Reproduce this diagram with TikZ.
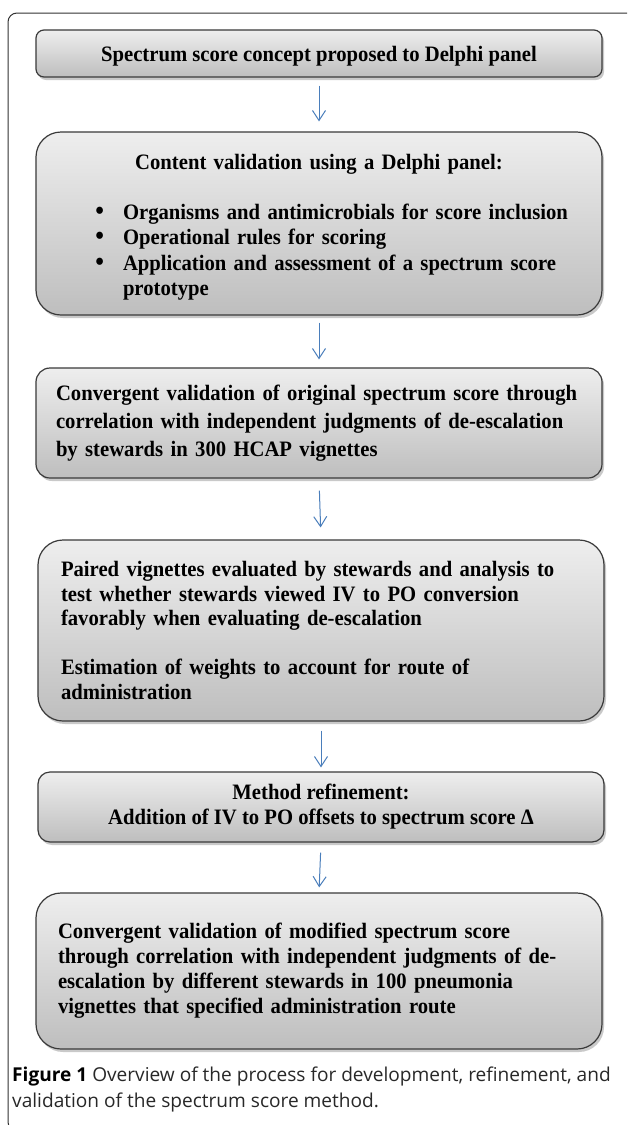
\documentclass[tikz,border=0pt]{standalone}
\usepackage{fontspec}
\setmainfont[FakeStretch=0.94]{Liberation Serif}
\newfontfamily\capfont{Open Sans}
\usetikzlibrary{arrows.meta,shadows}
\definecolor{boxtop}{RGB}{238,238,238}
\definecolor{boxbot}{RGB}{190,190,190}
\definecolor{boxline}{RGB}{58,58,58}
\definecolor{arrblue}{RGB}{74,126,187}
\definecolor{frameline}{RGB}{50,50,50}
\definecolor{capgray}{RGB}{40,40,40}
\tikzset{
  flowbox/.style={draw=boxline, line width=1.2pt, top color=boxtop, bottom color=boxbot,
    minimum width=566pt, inner ysep=0pt, font=\bfseries\fontsize{22}{25.5}\selectfont,
    drop shadow={shadow xshift=2pt, shadow yshift=-3pt, opacity=0.35, fill=black!60}},
  flowarrow/.style={draw=arrblue, line width=1pt, -{Straight Barb[length=10pt,width=13pt]}},
}
\begin{document}
\begin{tikzpicture}[x=1pt,y=-1pt]
\useasboundingbox (0,0) rectangle (627,1125);
\fill[white] (0,0) rectangle (627,1125);
\begin{scope}
\clip (0,0) rectangle (627,1125);
\draw[frameline, line width=1pt, rounded corners=9pt] (8,13) rectangle (640,1131);
\end{scope}

\node[flowbox, rounded corners=8pt, minimum height=47pt, align=center] (b1) at (319,53.5)
  {\rule{0pt}{21pt}Spectrum score concept proposed to Delphi panel};

\node[flowbox, rounded corners=25pt, minimum height=183pt, text width=520pt, inner xsep=23pt, align=left] (b2) at (319,223.5)
  {\makebox[\linewidth][c]{\rule{0pt}{23pt}Content validation using a Delphi panel:}\\[24.5pt]
   \hspace*{64pt}\llap{\scalebox{1.2}{\textbullet}\hspace{19pt}}Organisms and antimicrobials for score inclusion\\
   \hspace*{64pt}\llap{\scalebox{1.2}{\textbullet}\hspace{19pt}}Operational rules for scoring\\
   \hspace*{64pt}\llap{\scalebox{1.2}{\textbullet}\hspace{19pt}}Application and assessment of a spectrum score\\
   \hspace*{64pt}prototype};

\node[flowbox, rounded corners=14pt, minimum height=110pt, text width=526pt, inner xsep=20pt, align=left,
      font=\bfseries\fontsize{22}{28}\selectfont] (b3) at (319,423)
  {Convergent validation of original spectrum score through\\
   correlation with independent judgments of de-escalation\\
   by stewards in 300 HCAP vignettes};

\node[flowbox, rounded corners=25pt, minimum height=181pt, text width=520pt, inner xsep=23pt, align=left,
      font=\bfseries\fontsize{22}{24.5}\selectfont] (b4) at (321,630.5)
  {Paired vignettes evaluated by stewards and analysis to\\
   test whether stewards viewed IV to PO conversion\\
   favorably when evaluating de-escalation\\[24.5pt]
   Estimation of weights to account for route of\\
   administration};

\node[flowbox, rounded corners=12pt, minimum height=70pt, align=center,
      font=\bfseries\fontsize{22}{25}\selectfont] (b5) at (321,807)
  {Method refinement:\\
   Addition of IV to PO offsets to spectrum score Δ};

\node[flowbox, rounded corners=25pt, minimum height=156pt, text width=522pt, inner xsep=22pt, align=left,
      font=\bfseries\fontsize{22}{25}\selectfont] (b6) at (319,971)
  {Convergent validation of modified spectrum score\\
   through correlation with independent judgments of de-\\
   escalation by different stewards in 100 pneumonia\\
   vignettes that specified administration route};

\draw[flowarrow, shorten <=8pt, shorten >=10pt] (b1.south) -- (b2.north);
\draw[flowarrow, shorten <=7pt, shorten >=8pt] (b2.south) -- (b3.north);
\draw[flowarrow, shorten <=12pt, shorten >=12pt] (b3.south) -- (b4.north);
\draw[flowarrow, shorten <=9pt, shorten >=4pt] (b4.south) -- (b5.north);
\draw[flowarrow, shorten <=10pt, shorten >=5pt] (b5.south) -- (b6.north);

\node[anchor=base west, inner sep=0pt, align=left, text=capgray,
      font=\capfont\fontsize{19.1}{26}\selectfont] (cap) at (12,1107)
  {{\bfseries\color{black}Figure 1} Overview of the process for development, refinement, and\\
   validation of the spectrum score method.};
\end{tikzpicture}
\end{document}
